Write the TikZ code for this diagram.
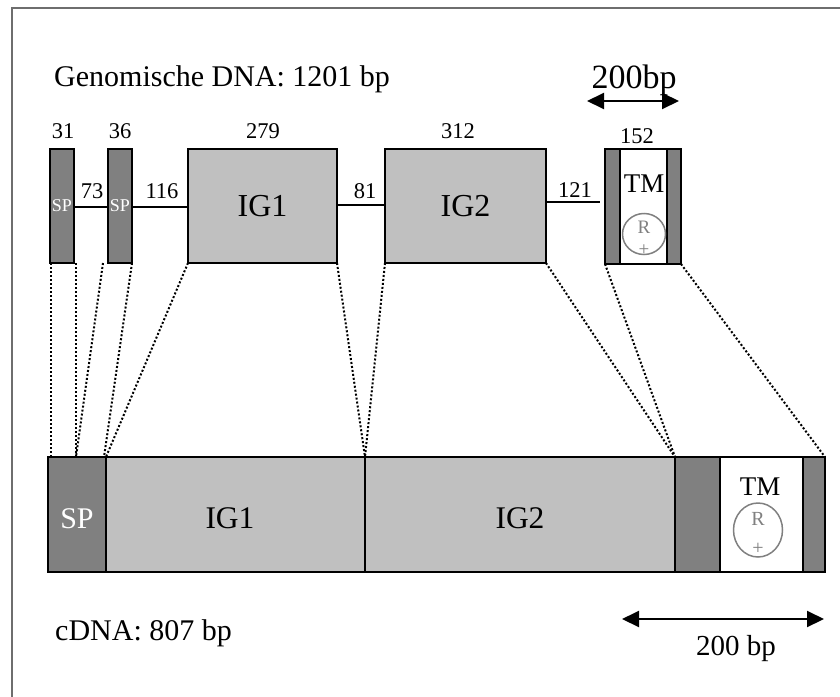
\documentclass[tikz,border=0pt]{standalone}
\usepackage{fontspec}
\setmainfont{Liberation Serif}
\usetikzlibrary{arrows.meta}
\definecolor{exondark}{RGB}{128,128,128}
\definecolor{exonlight}{RGB}{192,192,192}
\definecolor{framegray}{RGB}{110,110,110}
\begin{document}
\begin{tikzpicture}[x=1pt,y=-1pt,
  box/.style={draw=black, line width=2pt, inner sep=0pt, outer sep=0pt},
  darkbox/.style={box, fill=exondark},
  lightbox/.style={box, fill=exonlight, font=\fontsize{32}{38}\selectfont},
  whitebox/.style={box, fill=white},
  intron/.style={line width=2pt},
  guide/.style={line width=2pt, dash pattern=on 2pt off 2pt},
  num/.style={font=\fontsize{22.5}{27}\selectfont, inner sep=0pt, anchor=base},
  big/.style={font=\fontsize{30}{36}\selectfont, inner sep=0pt, anchor=base},
  smallsp/.style={font=\fontsize{18}{21}\selectfont, text=white},
  tmtext/.style={font=\fontsize{27}{32}\selectfont, inner sep=0pt, anchor=base},
  restext/.style={font=\fontsize{19}{22}\selectfont, text=exondark, inner sep=0pt},
  residue/.style={draw=exondark, line width=1.5pt},
  scalebar/.style={line width=2pt, {Triangle[length=17pt,width=16pt]}-{Triangle[length=17pt,width=16pt]}},
]
\useasboundingbox (0,0) rectangle (840,696);
\clip (0,0) rectangle (840,696);
% outer frame
\draw[framegray, line width=1.2pt] (12,8) rectangle (860,716);

% ---------- genomic DNA ----------
\node[big, anchor=base west] (gtitle) at (54,86) {Genomische DNA: 1201 bp};

\node[darkbox, smallsp, minimum width=24, minimum height=114] (sp1) at (62,206) {SP};
\node[darkbox, smallsp, minimum width=24, minimum height=114] (sp2) at (120,206) {SP};
\node[lightbox, minimum width=149, minimum height=114] (ig1) at (262.5,206) {IG1};
\node[lightbox, minimum width=161, minimum height=114] (ig2) at (465.5,206) {IG2};
\node[whitebox, minimum width=76, minimum height=115] (tm) at (643,206.5) {};
\node[darkbox, minimum width=15, minimum height=115] (tml) at (612.5,206.5) {};
\node[darkbox, minimum width=14, minimum height=115] (tmr) at (674,206.5) {};
\node[tmtext] (tmlabel) at (644,192) {TM};
\draw[residue] (644,234) ellipse [x radius=21.5, y radius=20.5];
\node[restext, anchor=base] (rtop) at (644,233) {R};
\node[restext] (ptop) at (644,250) {+};

% exon lengths
\node[num] (n31) at (63,138) {31};
\node[num] (n36) at (120,138) {36};
\node[num] (n279) at (263,138) {279};
\node[num] (n312) at (458,138) {312};
\node[num] (n152) at (637,143) {152};

% introns
\coordinate (i5end) at (600,202);
\draw[intron] (sp1.east |- 0,207) -- (sp2.west |- 0,207);
\draw[intron] (sp2.east |- 0,207) -- (ig1.west |- 0,207);
\draw[intron] (ig1.east |- 0,205) -- (ig2.west |- 0,205);
\draw[intron] (ig2.east |- 0,202) -- (i5end);
\node[num] (n73) at (92,198) {73};
\node[num] (n116) at (162,198) {116};
\node[num] (n81) at (365,198) {81};
\node[num] (n121) at (575,197) {121};

% scale bar, genomic
\coordinate (gs1) at (587,101);
\coordinate (gs2) at (679,101);
\draw[scalebar] (gs1) -- (gs2);
\node[font=\fontsize{34}{40}\selectfont, inner sep=0pt, anchor=base] (gslabel) at (634,88) {200bp};

% ---------- cDNA ----------
\node[darkbox, minimum width=58, minimum height=115] (csp) at (77,514.5) {};
\node[lightbox, minimum width=259, minimum height=115] (cig1) at (235.5,514.5) {};
\node[lightbox, minimum width=310, minimum height=115] (cig2) at (520,514.5) {};
\node[darkbox, minimum width=45, minimum height=115] (ctm1) at (697.5,514.5) {};
\node[whitebox, minimum width=83, minimum height=115] (ctmw) at (761.5,514.5) {};
\node[darkbox, minimum width=22, minimum height=115] (ctm2) at (814,514.5) {};

\node[big, text=white] (csplabel) at (77,528) {SP};
\node[big, font=\fontsize{31.5}{38}\selectfont] (cig1label) at (230,528) {IG1};
\node[big, font=\fontsize{31.5}{38}\selectfont] (cig2label) at (520,528) {IG2};
\node[tmtext] (ctmlabel) at (760,495) {TM};
\draw[residue] (758,530) ellipse [x radius=24.5, y radius=27];
\node[restext, font=\fontsize{20}{24}\selectfont, anchor=base] (rbot) at (758,525) {R};
\node[restext, font=\fontsize{20}{24}\selectfont] (pbot) at (758,549) {+};

\node[big, anchor=base west] (ctitle) at (55,640) {cDNA: 807 bp};

% scale bar, cDNA
\coordinate (cs1) at (622,619);
\coordinate (cs2) at (824,619);
\draw[scalebar] (cs1) -- (cs2);
\node[big, font=\fontsize{29}{35}\selectfont] (cslabel) at (736,655) {200 bp};

% ---------- exon correspondence ----------
\coordinate (j1) at (76,457);
\draw[guide] ([xshift=1pt]sp1.south west) -- ([xshift=3pt]csp.north west);
\draw[guide] ([xshift=2pt]sp1.south east) -- (j1);
\draw[guide] ([xshift=-5pt]sp2.south west) -- (j1);
\draw[guide] (sp2.south east) -- ([xshift=-2pt]csp.north east);
\draw[guide] (ig1.south west) -- (csp.north east);
\draw[guide] (ig1.south east) -- (cig1.north east);
\draw[guide] (ig2.south west) -- (cig2.north west);
\draw[guide] (ig2.south east) -- (cig2.north east);
\draw[guide] (tm.south west) -- (cig2.north east);
\draw[guide] (tm.south east) -- (ctm2.north east);
\end{tikzpicture}
\end{document}
